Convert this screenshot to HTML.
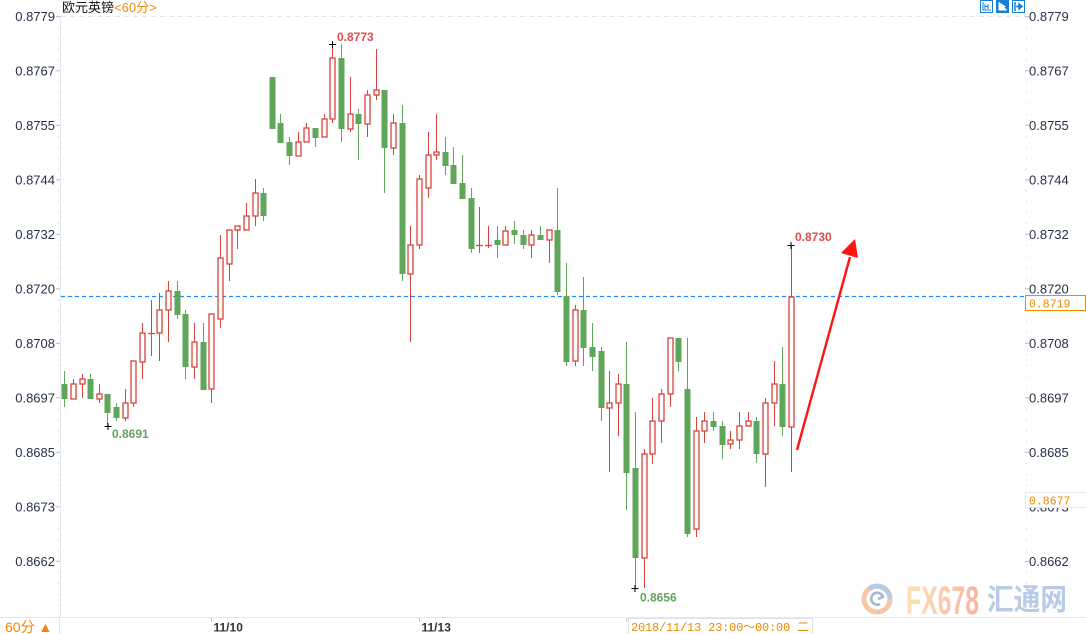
<!DOCTYPE html>
<html><head><meta charset="utf-8"><style>
html,body{margin:0;padding:0;background:#fff;width:1086px;height:634px;overflow:hidden}
svg{display:block}
.ax{font-family:"Liberation Sans",sans-serif;font-size:13px;fill:#283048}
.gw line{stroke:#5fa55a;stroke-width:1}
.gb rect{fill:#5fa55a}
.rw line{stroke:#d8433c;stroke-width:1}
.rb rect{fill:#fff;stroke:#d8433c;stroke-width:1.3}
.rb line{stroke:#d8433c;stroke-width:1.3}
.mk{font-family:"Liberation Sans",sans-serif;font-size:12px;font-weight:bold}
</style></head><body>
<svg width="1086" height="634" viewBox="0 0 1086 634" xmlns="http://www.w3.org/2000/svg">
<defs>
<linearGradient id="fxg" x1="0" x2="1" y1="0" y2="0">
<stop offset="0" stop-color="#fde2b2"/><stop offset="1" stop-color="#f8b3a3"/>
</linearGradient>
</defs>
<rect width="1086" height="634" fill="#fff"/>
<text x="62" y="12" style="font-family:'Liberation Sans','Noto Sans CJK SC',sans-serif;font-size:13px" fill="#111">欧元英镑<tspan fill="#f08a00">&lt;60分&gt;</tspan></text>
<rect x="980.5" y="0.5" width="12" height="12" fill="#fff" stroke="#1a7fd0"/>
<path d="M983 2v8h8M985 4v5M988 4v5M985 6.5h3" stroke="#1a7fd0" stroke-width="1" fill="none"/>
<rect x="996" y="0" width="13" height="13" fill="#1a7fd0"/>
<path d="M999 2v8h8M1001 4v5l4-2.5z" stroke="#fff" stroke-width="1" fill="#fff"/>
<rect x="1012.5" y="0.5" width="12" height="12" fill="#fff" stroke="#1a7fd0"/>
<path d="M1015 2v9M1016 6.5h5M1019 4l3 2.5-3 2.5z" stroke="#1a7fd0" stroke-width="1.5" fill="#1a7fd0"/>
<line x1="61" y1="16.5" x2="1026" y2="16.5" stroke="#dfe6ec" stroke-dasharray="5 4"/>
<line x1="60.5" y1="16" x2="60.5" y2="617" stroke="#e3e9ef"/>
<line x1="58.5" y1="16" x2="58.5" y2="617" stroke="#c7ced6" stroke-dasharray="1 9.9"/>
<line x1="1026.5" y1="16" x2="1026.5" y2="617" stroke="#c7ced6" stroke-dasharray="1 9.9"/>
<g stroke="#b8c0c9">
<line x1="56" y1="16.5" x2="60" y2="16.5"/><line x1="56" y1="70.8" x2="60" y2="70.8"/><line x1="56" y1="125.3" x2="60" y2="125.3"/><line x1="56" y1="179.8" x2="60" y2="179.8"/><line x1="56" y1="234.3" x2="60" y2="234.3"/><line x1="56" y1="288.8" x2="60" y2="288.8"/><line x1="56" y1="343.3" x2="60" y2="343.3"/><line x1="56" y1="397.8" x2="60" y2="397.8"/><line x1="56" y1="452.3" x2="60" y2="452.3"/><line x1="56" y1="506.8" x2="60" y2="506.8"/><line x1="56" y1="561.3" x2="60" y2="561.3"/>
<line x1="1025" y1="16.5" x2="1029" y2="16.5"/><line x1="1025" y1="70.8" x2="1029" y2="70.8"/><line x1="1025" y1="125.3" x2="1029" y2="125.3"/><line x1="1025" y1="179.8" x2="1029" y2="179.8"/><line x1="1025" y1="234.3" x2="1029" y2="234.3"/><line x1="1025" y1="288.8" x2="1029" y2="288.8"/><line x1="1025" y1="343.3" x2="1029" y2="343.3"/><line x1="1025" y1="397.8" x2="1029" y2="397.8"/><line x1="1025" y1="452.3" x2="1029" y2="452.3"/><line x1="1025" y1="506.8" x2="1029" y2="506.8"/><line x1="1025" y1="561.3" x2="1029" y2="561.3"/>
</g>
<g class="ax" text-anchor="end">
<text x="55" y="21">0.8779</text><text x="55" y="75.5">0.8767</text><text x="55" y="130">0.8755</text><text x="55" y="184.5">0.8744</text><text x="55" y="239">0.8732</text><text x="55" y="293.5">0.8720</text><text x="55" y="348">0.8708</text><text x="55" y="402.5">0.8697</text><text x="55" y="457">0.8685</text><text x="55" y="511.5">0.8673</text><text x="55" y="566">0.8662</text>
</g>
<g class="ax">
<text x="1029" y="21">0.8779</text><text x="1029" y="75.5">0.8767</text><text x="1029" y="130">0.8755</text><text x="1029" y="184.5">0.8744</text><text x="1029" y="239">0.8732</text><text x="1029" y="293.5">0.8720</text><text x="1029" y="348">0.8708</text><text x="1029" y="402.5">0.8697</text><text x="1029" y="457">0.8685</text><text x="1029" y="511.5">0.8673</text><text x="1029" y="566">0.8662</text>
</g>
<line x1="61" y1="296.5" x2="1026" y2="296.5" stroke="#1a8cff" stroke-width="1.2" stroke-dasharray="4 3"/>
<rect x="1025.5" y="295.5" width="60" height="15" fill="#fff" stroke="#f08a00"/>
<text x="1029" y="307.5" style="font-family:'Liberation Mono',monospace;font-size:11.5px" fill="#f08a00">0.8719</text>
<rect x="1025.5" y="492.5" width="61" height="15" fill="#fff" stroke="#e3e8ee"/>
<text x="1029" y="504.5" style="font-family:'Liberation Mono',monospace;font-size:11.5px" fill="#f08a00">0.8677</text>
<g class="gw">
<line x1="64.5" y1="371" x2="64.5" y2="407"/>
<line x1="90.5" y1="374" x2="90.5" y2="399"/>
<line x1="107.5" y1="394" x2="107.5" y2="427"/>
<line x1="116.5" y1="403" x2="116.5" y2="421"/>
<line x1="177.5" y1="281" x2="177.5" y2="319"/>
<line x1="185.5" y1="310" x2="185.5" y2="379"/>
<line x1="203.5" y1="323" x2="203.5" y2="390"/>
<line x1="263.5" y1="188" x2="263.5" y2="221"/>
<line x1="280.5" y1="114" x2="280.5" y2="143"/>
<line x1="289.5" y1="137" x2="289.5" y2="165"/>
<line x1="315.5" y1="128" x2="315.5" y2="147"/>
<line x1="341.5" y1="44" x2="341.5" y2="142"/>
<line x1="358.5" y1="109" x2="358.5" y2="160"/>
<line x1="384.5" y1="90" x2="384.5" y2="193"/>
<line x1="402.5" y1="105" x2="402.5" y2="281"/>
<line x1="445.5" y1="137" x2="445.5" y2="175"/>
<line x1="453.5" y1="147" x2="453.5" y2="184"/>
<line x1="462.5" y1="155" x2="462.5" y2="199"/>
<line x1="471.5" y1="188" x2="471.5" y2="253"/>
<line x1="497.5" y1="226" x2="497.5" y2="258"/>
<line x1="514.5" y1="221" x2="514.5" y2="244"/>
<line x1="523.5" y1="230" x2="523.5" y2="249"/>
<line x1="540.5" y1="226" x2="540.5" y2="240"/>
<line x1="557.5" y1="188" x2="557.5" y2="295"/>
<line x1="566.5" y1="263" x2="566.5" y2="366"/>
<line x1="583.5" y1="277" x2="583.5" y2="366"/>
<line x1="592.5" y1="323" x2="592.5" y2="371"/>
<line x1="601.5" y1="347" x2="601.5" y2="421"/>
<line x1="626.5" y1="342" x2="626.5" y2="510"/>
<line x1="635.5" y1="412" x2="635.5" y2="588"/>
<line x1="678.5" y1="338" x2="678.5" y2="371"/>
<line x1="687.5" y1="338" x2="687.5" y2="537"/>
<line x1="713.5" y1="412" x2="713.5" y2="431"/>
<line x1="722.5" y1="421" x2="722.5" y2="459"/>
<line x1="756.5" y1="417" x2="756.5" y2="463"/>
<line x1="782.5" y1="347" x2="782.5" y2="436"/>
</g>
<g class="gb">
<rect x="61.5" y="384" width="6" height="15"/>
<rect x="87.5" y="379" width="6" height="20"/>
<rect x="104.5" y="394" width="6" height="19"/>
<rect x="113.5" y="407" width="6" height="11"/>
<rect x="174.5" y="291" width="6" height="24"/>
<rect x="182.5" y="314" width="6" height="53"/>
<rect x="200.5" y="342" width="6" height="48"/>
<rect x="260.5" y="193" width="6" height="23"/>
<rect x="269.5" y="77" width="6" height="52"/>
<rect x="277.5" y="123" width="6" height="20"/>
<rect x="286.5" y="142" width="6" height="14"/>
<rect x="312.5" y="128" width="6" height="10"/>
<rect x="338.5" y="58" width="6" height="71"/>
<rect x="355.5" y="114" width="6" height="10"/>
<rect x="381.5" y="90" width="6" height="58"/>
<rect x="399.5" y="123" width="6" height="151"/>
<rect x="442.5" y="152" width="6" height="14"/>
<rect x="450.5" y="165" width="6" height="19"/>
<rect x="459.5" y="183" width="6" height="16"/>
<rect x="468.5" y="198" width="6" height="51"/>
<rect x="494.5" y="240" width="6" height="5"/>
<rect x="511.5" y="230" width="6" height="5"/>
<rect x="520.5" y="235" width="6" height="10"/>
<rect x="537.5" y="235" width="6" height="5"/>
<rect x="554.5" y="230" width="6" height="62"/>
<rect x="563.5" y="296" width="6" height="66"/>
<rect x="580.5" y="310" width="6" height="38"/>
<rect x="589.5" y="347" width="6" height="10"/>
<rect x="598.5" y="351" width="6" height="57"/>
<rect x="623.5" y="384" width="6" height="89"/>
<rect x="632.5" y="468" width="6" height="90"/>
<rect x="675.5" y="338" width="6" height="24"/>
<rect x="684.5" y="389" width="6" height="145"/>
<rect x="710.5" y="421" width="6" height="6"/>
<rect x="719.5" y="426" width="6" height="19"/>
<rect x="753.5" y="421" width="6" height="33"/>
<rect x="779.5" y="384" width="6" height="43"/>
</g>
<g class="rw">
<line x1="73.5" y1="379" x2="73.5" y2="399"/>
<line x1="82.5" y1="374" x2="82.5" y2="398"/>
<line x1="99.5" y1="384" x2="99.5" y2="403"/>
<line x1="125.5" y1="389" x2="125.5" y2="421"/>
<line x1="133.5" y1="361" x2="133.5" y2="407"/>
<line x1="142.5" y1="323" x2="142.5" y2="379"/>
<line x1="151.5" y1="300" x2="151.5" y2="356"/>
<line x1="159.5" y1="293" x2="159.5" y2="361"/>
<line x1="168.5" y1="281" x2="168.5" y2="342"/>
<line x1="194.5" y1="323" x2="194.5" y2="379"/>
<line x1="211.5" y1="314" x2="211.5" y2="403"/>
<line x1="220.5" y1="235" x2="220.5" y2="328"/>
<line x1="229.5" y1="230" x2="229.5" y2="281"/>
<line x1="237.5" y1="226" x2="237.5" y2="249"/>
<line x1="246.5" y1="203" x2="246.5" y2="230"/>
<line x1="255.5" y1="179" x2="255.5" y2="226"/>
<line x1="298.5" y1="132" x2="298.5" y2="156"/>
<line x1="306.5" y1="123" x2="306.5" y2="142"/>
<line x1="324.5" y1="114" x2="324.5" y2="137"/>
<line x1="332.5" y1="44" x2="332.5" y2="123"/>
<line x1="350.5" y1="77" x2="350.5" y2="132"/>
<line x1="367.5" y1="90" x2="367.5" y2="137"/>
<line x1="376.5" y1="49" x2="376.5" y2="100"/>
<line x1="393.5" y1="114" x2="393.5" y2="155"/>
<line x1="410.5" y1="226" x2="410.5" y2="342"/>
<line x1="419.5" y1="175" x2="419.5" y2="249"/>
<line x1="428.5" y1="132" x2="428.5" y2="198"/>
<line x1="436.5" y1="114" x2="436.5" y2="160"/>
<line x1="479.5" y1="207" x2="479.5" y2="253"/>
<line x1="488.5" y1="226" x2="488.5" y2="248"/>
<line x1="505.5" y1="226" x2="505.5" y2="245"/>
<line x1="531.5" y1="230" x2="531.5" y2="258"/>
<line x1="549.5" y1="230" x2="549.5" y2="263"/>
<line x1="575.5" y1="305" x2="575.5" y2="366"/>
<line x1="609.5" y1="371" x2="609.5" y2="472"/>
<line x1="618.5" y1="374" x2="618.5" y2="436"/>
<line x1="644.5" y1="449" x2="644.5" y2="588"/>
<line x1="652.5" y1="398" x2="652.5" y2="464"/>
<line x1="661.5" y1="389" x2="661.5" y2="443"/>
<line x1="670.5" y1="338" x2="670.5" y2="407"/>
<line x1="696.5" y1="417" x2="696.5" y2="537"/>
<line x1="704.5" y1="412" x2="704.5" y2="443"/>
<line x1="730.5" y1="431" x2="730.5" y2="449"/>
<line x1="739.5" y1="412" x2="739.5" y2="449"/>
<line x1="748.5" y1="412" x2="748.5" y2="426"/>
<line x1="765.5" y1="398" x2="765.5" y2="487"/>
<line x1="774.5" y1="361" x2="774.5" y2="426"/>
<line x1="791.5" y1="245" x2="791.5" y2="472"/>
</g>
<g class="rb">
<rect x="71" y="384" width="5" height="15"/>
<rect x="80" y="379" width="5" height="5"/>
<rect x="97" y="394" width="5" height="5"/>
<rect x="123" y="403" width="5" height="15"/>
<rect x="131" y="361" width="5" height="42"/>
<rect x="140" y="333" width="5" height="29"/>
<line x1="148" y1="333.5" x2="155" y2="333.5"/>
<rect x="157" y="310" width="5" height="23"/>
<rect x="166" y="291" width="5" height="19"/>
<rect x="192" y="342" width="5" height="25"/>
<rect x="209" y="314" width="5" height="75"/>
<rect x="218" y="258" width="5" height="61"/>
<rect x="227" y="230" width="5" height="34"/>
<rect x="235" y="226" width="5" height="4"/>
<rect x="244" y="216" width="5" height="14"/>
<rect x="253" y="193" width="5" height="23"/>
<rect x="296" y="142" width="5" height="14"/>
<rect x="304" y="128" width="5" height="14"/>
<rect x="322" y="119" width="5" height="18"/>
<rect x="330" y="58" width="5" height="61"/>
<rect x="348" y="114" width="5" height="15"/>
<rect x="365" y="95" width="5" height="29"/>
<rect x="374" y="90" width="5" height="5"/>
<rect x="391" y="123" width="5" height="25"/>
<rect x="408" y="245" width="5" height="29"/>
<rect x="417" y="179" width="5" height="66"/>
<rect x="426" y="155" width="5" height="33"/>
<rect x="434" y="152" width="5" height="3"/>
<line x1="476" y1="245.5" x2="483" y2="245.5"/>
<line x1="485" y1="245.5" x2="492" y2="245.5"/>
<rect x="503" y="231" width="5" height="14"/>
<rect x="529" y="235" width="5" height="10"/>
<rect x="547" y="230" width="5" height="10"/>
<rect x="573" y="310" width="5" height="51"/>
<rect x="607" y="403" width="5" height="5"/>
<rect x="616" y="384" width="5" height="19"/>
<rect x="642" y="454" width="5" height="104"/>
<rect x="650" y="421" width="5" height="33"/>
<rect x="659" y="394" width="5" height="27"/>
<rect x="668" y="338" width="5" height="56"/>
<rect x="694" y="431" width="5" height="98"/>
<rect x="702" y="421" width="5" height="10"/>
<rect x="728" y="440" width="5" height="4"/>
<rect x="737" y="426" width="5" height="14"/>
<rect x="746" y="421" width="5" height="5"/>
<rect x="763" y="403" width="5" height="51"/>
<rect x="772" y="384" width="5" height="19"/>
<rect x="789" y="297" width="5" height="130"/>
</g>
<g stroke="#000" stroke-width="1">
<line x1="104.5" y1="426.5" x2="111.5" y2="426.5"/><line x1="108" y1="423" x2="108" y2="430"/>
<line x1="329" y1="44.5" x2="336" y2="44.5"/><line x1="332.5" y1="41" x2="332.5" y2="48"/>
<line x1="631.5" y1="588.5" x2="638.5" y2="588.5"/><line x1="635" y1="585" x2="635" y2="592"/>
<line x1="787.5" y1="245.5" x2="794.5" y2="245.5"/><line x1="791" y1="242" x2="791" y2="249"/>
</g>
<text class="mk" x="112" y="438" fill="#62a35c">0.8691</text>
<text class="mk" x="337" y="41" fill="#e24a4a">0.8773</text>
<text class="mk" x="640" y="601.5" fill="#62a35c">0.8656</text>
<text class="mk" x="795" y="241" fill="#e24a4a">0.8730</text>
<line x1="797" y1="450" x2="850" y2="257" stroke="#ff1414" stroke-width="2.4"/>
<polygon points="855,239 841,253 858,258" fill="#ff1414"/>
<circle cx="877" cy="599" r="13" fill="none" stroke="#f7c7a8" stroke-width="5"/>
<path d="M869 589 A13 13 0 0 1 890 599" fill="none" stroke="#b9cbe4" stroke-width="5"/>
<path d="M880 604 A6 6 0 1 1 883 597 L878 599" fill="none" stroke="#9fb6d8" stroke-width="2.5"/>
<text x="906" y="614" textLength="73" lengthAdjust="spacingAndGlyphs" style="font-family:'Liberation Sans',sans-serif;font-size:40px;font-weight:600" fill="url(#fxg)">FX678</text>
<text x="987" y="610" textLength="80" lengthAdjust="spacingAndGlyphs" style="font-family:'Liberation Sans','Noto Sans CJK SC',sans-serif;font-size:30px;font-weight:bold" fill="#b7cbe7">汇通网</text>
<line x1="0" y1="617.5" x2="1086" y2="617.5" stroke="#e3e7eb"/>
<line x1="59.5" y1="617" x2="59.5" y2="634" stroke="#e3e7eb"/>
<text x="5" y="632" style="font-family:'Liberation Sans','Noto Sans CJK SC',sans-serif;font-size:14px" fill="#f5820a">60分 ▲</text>
<line x1="211.5" y1="618" x2="211.5" y2="622" stroke="#c9ced4"/>
<line x1="419.5" y1="618" x2="419.5" y2="622" stroke="#c9ced4"/>
<line x1="626.5" y1="618" x2="626.5" y2="622" stroke="#c9ced4"/>
<text x="213.5" y="631.5" style="font-family:'Liberation Sans',sans-serif;font-size:12px;font-weight:bold" fill="#333">11/10</text>
<text x="421.5" y="631.5" style="font-family:'Liberation Sans',sans-serif;font-size:12px;font-weight:bold" fill="#333">11/13</text>
<rect x="628.5" y="618.5" width="184" height="16" fill="#fff" stroke="#dde3e8"/>
<text x="631" y="631" textLength="178" lengthAdjust="spacing" style="font-family:'Liberation Mono','Noto Sans CJK SC',monospace;font-size:12px" fill="#f08a00">2018/11/13 23:00～00:00 二</text>
</svg>
</body></html>
